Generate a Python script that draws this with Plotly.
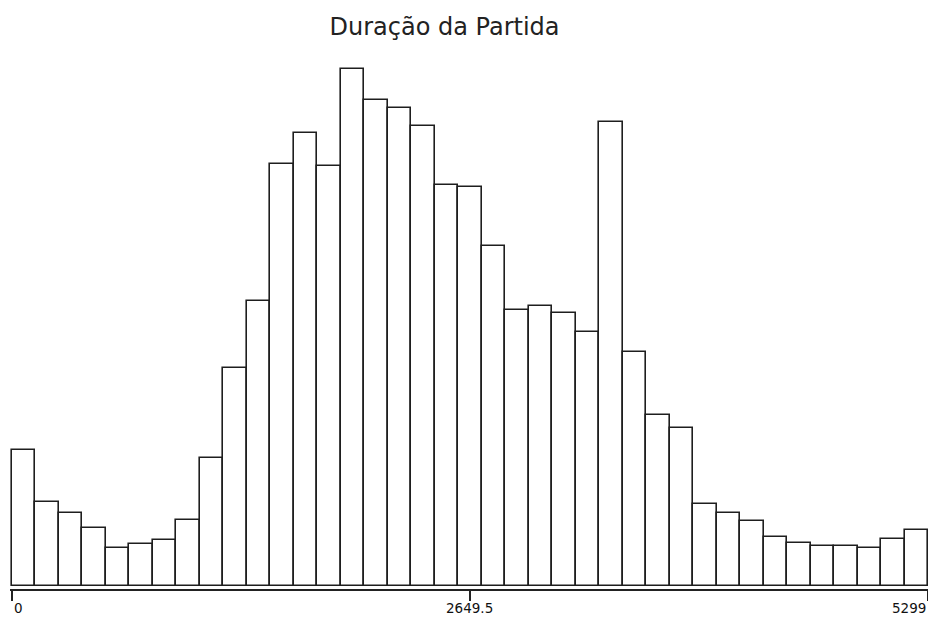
import plotly.graph_objects as go

# Histogram of match durations (0 .. 5299), 39 equal-width bins
x_min = 0
x_max = 5299
n_bins = 39
counts = [136, 84, 73, 58, 38, 42, 46, 66, 128, 218, 285, 422, 453, 420, 517,
          486, 478, 460, 401, 399, 340, 276, 280, 273, 254, 464, 234, 171, 158,
          82, 73, 65, 49, 43, 40, 40, 38, 47, 56]
tick_vals = [0, 2649.5, 5299]
tick_text = ["0", "2649.5", "5299"]
title_text = "Duração da Partida"

bin_w = (x_max - x_min) / n_bins
centers = [x_min + (i + 0.5) * bin_w for i in range(n_bins)]

# a little padding on the left so the first bar's outline is not clipped
px_per_unit = 917 / (x_max - x_min)
pad_left = 1.5 / px_per_unit

fig = go.Figure()
fig.add_trace(go.Bar(
    x=centers, y=counts, width=[bin_w] * n_bins,
    marker=dict(color="white", line=dict(color="#1e1e1e", width=1.6)),
    showlegend=False, hoverinfo="y",
))

anchors = ["left", "center", "right"]
for v, t, a in zip(tick_vals, tick_text, anchors):
    fig.add_annotation(x=v, xref="x", y=-0.017, yref="paper", text=t,
                       showarrow=False, xanchor=a, yanchor="top",
                       font=dict(family="DejaVu Sans", size=13.5, color="#111"))

fig.update_layout(
    width=928, height=618,
    margin=dict(l=9.5, r=0, t=60, b=29),
    paper_bgcolor="white", plot_bgcolor="white",
    title=dict(text=title_text, x=0.479, xanchor="center", y=0.957, yanchor="middle",
               font=dict(family="DejaVu Sans", size=24, color="#222")),
    bargap=0,
    xaxis=dict(range=[x_min - pad_left, x_max], showgrid=False, zeroline=False,
               showline=True, linecolor="#222", linewidth=2,
               ticks="outside", ticklen=10, tickwidth=1.5, tickcolor="#222",
               tickvals=tick_vals, showticklabels=False),
    yaxis=dict(range=[-3, 526], visible=False, showgrid=False, zeroline=False),
)

fig.write_html("out.html")
